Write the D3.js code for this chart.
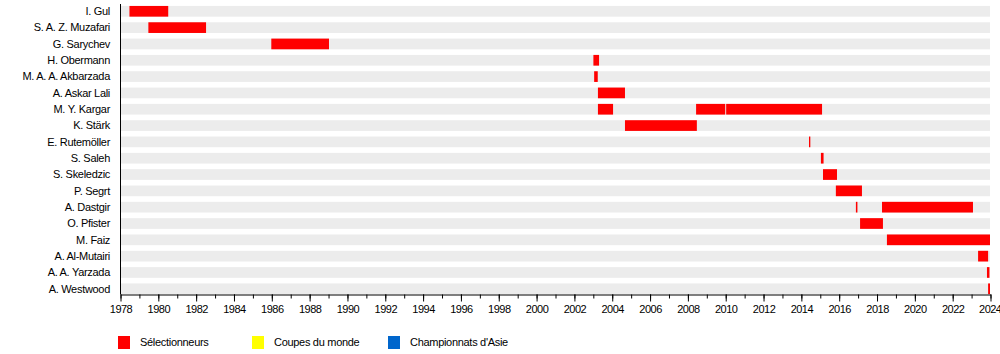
<!DOCTYPE html>
<html>
<head>
<meta charset="utf-8">
<script src="https://cdn.jsdelivr.net/npm/d3@7"></script>
<style>
  body { margin: 0; background: #fff; }
  svg text { font-family: "Liberation Sans", Arial, sans-serif; }
</style>
</head>
<body>
<svg id="chart" width="1000" height="354"></svg>
<script>
// === Data ===
const coaches = [
  "I. Gul", "S. A. Z. Muzafari", "G. Sarychev", "H. Obermann", "M. A. A. Akbarzada",
  "A. Askar Lali", "M. Y. Kargar", "K. Stärk", "E. Rutemöller", "S. Saleh",
  "S. Skeledzic", "P. Segrt", "A. Dastgir", "O. Pfister", "M. Faiz",
  "A. Al-Mutairi", "A. A. Yarzada", "A. Westwood"
];

// periods as decimal years [coach, start, end]
const periods = [
  ["I. Gul", 1978.5, 1980.55],
  ["S. A. Z. Muzafari", 1979.5, 1982.55],
  ["G. Sarychev", 1986.0, 1989.05],
  ["H. Obermann", 2003.03, 2003.33],
  ["M. A. A. Akbarzada", 2003.07, 2003.26],
  ["A. Askar Lali", 2003.27, 2004.7],
  ["M. Y. Kargar", 2003.27, 2004.07],
  ["M. Y. Kargar", 2008.46, 2010.0],
  ["M. Y. Kargar", 2010.05, 2015.12],
  ["K. Stärk", 2004.7, 2008.5],
  ["E. Rutemöller", 2014.43, 2014.5],
  ["S. Saleh", 2015.06, 2015.2],
  ["S. Skeledzic", 2015.17, 2015.91],
  ["P. Segrt", 2015.85, 2017.23],
  ["A. Dastgir", 2016.91, 2016.99],
  ["A. Dastgir", 2018.29, 2023.1],
  ["O. Pfister", 2017.13, 2018.34],
  ["M. Faiz", 2018.55, 2024.0],
  ["A. Al-Mutairi", 2023.37, 2023.9],
  ["A. A. Yarzada", 2023.84, 2023.97],
  ["A. Westwood", 2023.9, 2024.0]
];

const yearStart = 1978;
const yearEnd = 2024;

const legendLabels = ["Sélectionneurs", "Coupes du monde", "Championnats d'Asie"];
const legendColors = ["#ff0000", "#ffff00", "#0066cc"];

// === Setup ===
const svg = d3.select("#chart");
const axisY = 294.5;

const x = d3.scaleLinear()
  .domain([yearStart, yearEnd])
  .range([120, 990]);

const y = d3.scalePoint()
  .domain(coaches)
  .range([11.3, 288.8]);

const barH = 10.7;

// grey background bands
svg.append("g")
  .selectAll("rect")
  .data(coaches)
  .join("rect")
  .attr("x", x(yearStart))
  .attr("y", d => y(d) - barH / 2)
  .attr("width", x(yearEnd) - x(yearStart))
  .attr("height", barH)
  .attr("fill", "#ececec");

// bars
svg.append("g")
  .selectAll("rect")
  .data(periods)
  .join("rect")
  .attr("x", d => x(d[1]))
  .attr("y", d => y(d[0]) - barH / 2)
  .attr("width", d => Math.max(1, x(d[2]) - x(d[1])))
  .attr("height", barH)
  .attr("fill", legendColors[0]);

// coach labels
svg.append("g")
  .selectAll("text")
  .data(coaches)
  .join("text")
  .attr("x", 110)
  .attr("y", d => y(d))
  .attr("dy", "0.35em")
  .attr("text-anchor", "end")
  .attr("font-size", "11px")
  .attr("letter-spacing", "-0.3px")
  .attr("fill", "#000")
  .text(d => d);

// vertical axis line
svg.append("line")
  .attr("x1", 120.5).attr("x2", 120.5)
  .attr("y1", 4).attr("y2", axisY)
  .attr("stroke", "#000");

// x axis: minor ticks each year, major + labels every 2 years
const minorAxis = d3.axisBottom(x)
  .tickValues(d3.range(yearStart, yearEnd + 1, 1))
  .tickSize(4)
  .tickFormat("");
svg.append("g")
  .attr("transform", `translate(0.5, ${axisY})`)
  .call(minorAxis)
  .call(g => g.select(".domain").remove());

const majorAxis = d3.axisBottom(x)
  .tickValues(d3.range(yearStart, yearEnd + 1, 2))
  .tickSize(7)
  .tickSizeOuter(0)
  .tickPadding(4)
  .tickFormat(d3.format("d"));
svg.append("g")
  .attr("transform", `translate(0.5, ${axisY})`)
  .call(majorAxis)
  .call(g => g.selectAll("text")
    .attr("font-family", "Liberation Sans, Arial, sans-serif")
    .attr("font-size", "11px")
    .attr("letter-spacing", "-0.5px")
    .attr("fill", "#000"))
  // keep the last label inside the picture
  .call(g => g.selectAll(".tick:last-of-type text").attr("text-anchor", "end").attr("dx", "10.5"));

// === Legend ===
const legendX = [118, 252, 388];
const legend = svg.append("g");
legendLabels.forEach((label, i) => {
  legend.append("rect")
    .attr("x", legendX[i])
    .attr("y", 336)
    .attr("width", 12)
    .attr("height", 13)
    .attr("fill", legendColors[i]);
  legend.append("text")
    .attr("x", legendX[i] + 22)
    .attr("y", 342.5)
    .attr("dy", "0.35em")
    .attr("font-size", "11px")
    .attr("letter-spacing", "-0.3px")
    .attr("fill", "#000")
    .text(label);
});
</script>
</body>
</html>
